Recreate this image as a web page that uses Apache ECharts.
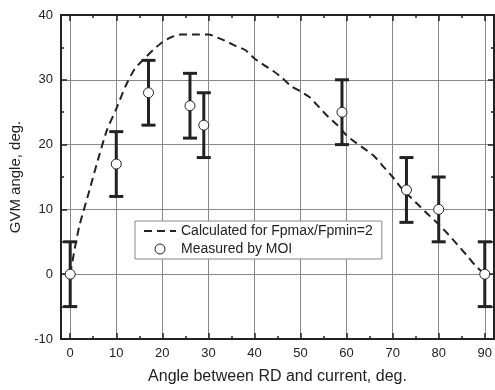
<!DOCTYPE html>
<html>
<head>
<meta charset="utf-8">
<script src="https://cdn.jsdelivr.net/npm/echarts@6/dist/echarts.min.js"></script>
<style>
  html, body { margin: 0; padding: 0; background: #fff; }
  #chart { width: 495px; height: 390px; }
</style>
</head>
<body>
<div id="chart"></div>
<script>
// tick positions on the angle axis
const xTicks = [0, 10, 20, 30, 40, 50, 60, 70, 80, 90]
const xMinorTicks = [5, 15, 25, 35, 45, 55, 65, 75, 85]

// calculated curve (Fpmax/Fpmin = 2)
const calcX = [0, 1, 2, 4, 6, 8, 10, 12, 14, 16, 18, 20, 22, 24, 26, 28, 30, 32, 34, 36, 38, 40, 42, 44, 46, 48, 50, 52, 54, 56, 58, 60, 62, 64, 66, 68, 70, 72, 74, 76, 78, 80, 82, 84, 86, 88, 90]
const calcY = [0, 4, 7.5, 12.5, 17.6, 22.3, 25.5, 29, 31.7, 33.2, 34.6, 35.8, 36.6, 37, 37, 37, 37, 36.5, 35.9, 35.2, 34.6, 33.3, 32.3, 31.4, 30.3, 29, 28.2, 27.3, 25.8, 24.3, 23, 21.4, 20.3, 19.3, 18.2, 16.6, 15, 13.2, 11.8, 10.4, 9, 7.7, 6.2, 4.6, 3, 1.3, 0]

// measured by MOI
const measX = [0, 10, 17, 26, 29, 59, 73, 80, 90]
const measY = [0, 17, 28, 26, 23, 25, 13, 10, 0]
const measErr = [5, 5, 5, 5, 5, 5, 5, 5, 5]

const calcName = 'Calculated for Fpmax/Fpmin=2'
const measName = 'Measured by MOI'

const chart = echarts.init(document.getElementById('chart'), null, { renderer: 'canvas' })

const font = 'Liberation Sans, Arial, sans-serif'
const ink = '#222'
const gridColor = '#888'

function xAxisDef(position, ticks, len, withLabels) {
  return {
    type: 'value',
    position: position,
    min: -2,
    max: 92,
    axisLine: { show: true, onZero: false, lineStyle: { color: ink, width: 2 } },
    axisTick: { show: true, inside: true, length: len, customValues: ticks, lineStyle: { color: ink, width: 1.5 } },
    axisLabel: withLabels
      ? { show: true, customValues: ticks, color: ink, fontSize: 13, fontFamily: font, margin: 8 }
      : { show: false },
    splitLine: withLabels
      ? { show: true, lineStyle: { color: gridColor, width: 1 } }
      : { show: false }
  }
}

function yAxisDef(position, withLabels) {
  return {
    type: 'value',
    position: position,
    min: -10,
    max: 40,
    interval: 10,
    axisLine: { show: true, onZero: false, lineStyle: { color: ink, width: 2 } },
    axisTick: { show: true, inside: true, length: 6, lineStyle: { color: ink, width: 1.5 } },
    minorTick: { show: true, splitNumber: 2, length: 3, lineStyle: { color: ink, width: 1.5 } },
    axisLabel: withLabels
      ? { show: true, color: ink, fontSize: 13, fontFamily: font, margin: 8 }
      : { show: false },
    splitLine: withLabels
      ? { show: true, lineStyle: { color: gridColor, width: 1 } }
      : { show: false }
  }
}

const xMain = xAxisDef('bottom', xTicks, 6, true)
xMain.name = 'Angle between RD and current, deg.'
xMain.nameLocation = 'middle'
xMain.nameGap = 30
xMain.nameTextStyle = { color: ink, fontSize: 16, fontFamily: font }

const yMain = yAxisDef('left', true)
yMain.name = 'GVM angle, deg.'
yMain.nameLocation = 'middle'
yMain.nameGap = 27
yMain.nameTextStyle = { color: ink, fontSize: 15, fontFamily: font }

const errData = measX.map((x, i) => [x, measY[i] - measErr[i], measY[i] + measErr[i]])

const option = {
  animation: false,
  backgroundColor: '#fff',
  textStyle: { fontFamily: font },
  grid: { left: 61, right: -4, top: 15, bottom: 51, containLabel: false },
  legend: {
    data: [
      { name: calcName, itemStyle: { opacity: 0 } },
      { name: measName, itemStyle: { color: '#fff', borderColor: ink, borderWidth: 1 } }
    ],
    orient: 'vertical',
    left: 135,
    top: 221,
    padding: [3, 9, 3, 8],
    itemGap: 4,
    itemWidth: 32,
    itemHeight: 10,
    backgroundColor: '#fff',
    borderColor: '#888',
    borderWidth: 1,
    textStyle: { color: ink, fontSize: 14, fontFamily: font }
  },
  xAxis: [
    xMain,
    xAxisDef('bottom', xMinorTicks, 3, false),
    xAxisDef('top', xTicks, 6, false),
    xAxisDef('top', xMinorTicks, 3, false)
  ],
  yAxis: [yMain, yAxisDef('right', false)],
  series: [
    {
      name: calcName,
      type: 'line',
      xAxisIndex: 0,
      yAxisIndex: 0,
      data: calcX.map((x, i) => [x, calcY[i]]),
      smooth: 0.2,
      symbol: 'none',
      lineStyle: { color: ink, width: 2, type: [8, 5] },
      itemStyle: { color: ink },
      z: 3
    },
    {
      name: 'error',
      type: 'custom',
      xAxisIndex: 0,
      yAxisIndex: 0,
      data: errData,
      encode: { x: 0, y: [1, 2] },
      renderItem: function (params, api) {
        const x = api.value(0)
        const lo = api.coord([x, api.value(1)])
        const hi = api.coord([x, api.value(2)])
        const half = 7
        const style = { stroke: ink, lineWidth: 3, fill: null }
        return {
          type: 'group',
          children: [
            { type: 'line', shape: { x1: lo[0], y1: lo[1], x2: hi[0], y2: hi[1] }, style: style },
            { type: 'line', shape: { x1: lo[0] - half, y1: lo[1], x2: lo[0] + half, y2: lo[1] }, style: style },
            { type: 'line', shape: { x1: hi[0] - half, y1: hi[1], x2: hi[0] + half, y2: hi[1] }, style: style }
          ]
        }
      },
      z: 4
    },
    {
      name: measName,
      type: 'scatter',
      xAxisIndex: 0,
      yAxisIndex: 0,
      data: measX.map((x, i) => [x, measY[i]]),
      symbol: 'circle',
      symbolSize: 10,
      itemStyle: { color: '#fff', borderColor: ink, borderWidth: 1, opacity: 1 },
      z: 5
    }
  ]
}

chart.setOption(option)
</script>
</body>
</html>
